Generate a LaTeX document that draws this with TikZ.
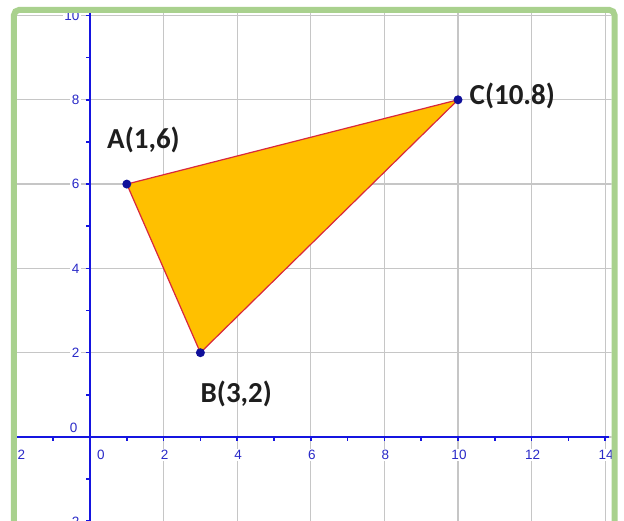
\documentclass[tikz,border=0pt]{standalone}
\usepackage{fontspec}
\setmainfont{Carlito}
\newfontfamily\axfont{Liberation Sans}
\definecolor{framegreen}{HTML}{A9D18E}
\definecolor{gridgray}{HTML}{C6C6C6}
\definecolor{axisblue}{HTML}{1515E0}
\definecolor{lblblue}{HTML}{2A2AC8}
\definecolor{trifill}{HTML}{FFC000}
\definecolor{triedge}{HTML}{D8283C}
\definecolor{ptblue}{HTML}{10109A}
\definecolor{lbltext}{HTML}{1E1E1E}
\begin{document}
\begin{tikzpicture}[x=36.8pt,y=42.15pt,
  gridline/.style={gridgray, line width=1.2pt},
  axisline/.style={axisblue, line width=2pt},
  tickline/.style={axisblue, line width=1.6pt},
  ticklabel/.style={font=\axfont\fontsize{13.5}{14}\selectfont, text=lblblue, fill=white, inner sep=1.5pt},
  ptdot/.style={circle, fill=ptblue, inner sep=0pt, minimum size=9pt},
  ptlabel/.style={font=\bfseries\fontsize{29}{32}\selectfont, text=lbltext, inner sep=0pt, anchor=base west}]
\useasboundingbox (-90pt,-84pt) rectangle (534pt,437pt);
\fill[white] (-90pt,-84pt) rectangle (534pt,437pt);
\begin{scope}
\clip (-73pt,-90pt) rectangle (521.5pt,424pt);
% grid
\foreach \x in {-2,0,...,14} \draw[gridline] (\x,-2.5) -- (\x,10.5);
\foreach \y in {-2,0,...,10} \draw[gridline] (-2.5,\y) -- (14.5,\y);
% x tick labels
\node[ticklabel, xshift=1pt, yshift=-18pt] (xm2) at (-2,0) {−2};
\node[ticklabel, xshift=11pt, yshift=-18pt] (x0) at (0,0) {0};
\foreach \x in {2,4,...,14} \node[ticklabel, xshift=1pt, yshift=-18pt] (x\x) at (\x,0) {\x};
% y tick labels
\node[ticklabel, anchor=east, xshift=-9pt] (ym2) at (0,-2) {−2};
\node[ticklabel, anchor=east, xshift=-11pt, yshift=9pt] (y0) at (0,0) {0};
\foreach \y in {2,4,...,10} \node[ticklabel, anchor=east, xshift=-9pt] (y\y) at (0,\y) {\y};
% triangle
\coordinate (A) at (1,6);
\coordinate (B) at (3,2);
\coordinate (C) at (10,8);
\filldraw[fill=trifill, draw=triedge, line width=1.2pt, line join=round] (A) -- (B) -- (C) -- cycle;
% axes
\coordinate (xl) at (-2.5,0);
\coordinate (xr) at (14.1,0);
\coordinate (yb) at (0,-2.5);
\coordinate (yt) at (0,10.2);
\draw[axisline] (xl) -- (xr);
\draw[axisline] (yb) -- (yt);
\foreach \x in {-2,...,14} \draw[tickline] (\x,0) -- ++(0,-4pt);
\foreach \y in {-2,...,10} \draw[tickline] (0,\y) -- ++(-4pt,0);
% points
\node[ptdot] (dA) at (A) {};
\node[ptdot] (dB) at (B) {};
\node[ptdot] (dC) at (C) {};
\end{scope}
% point labels
\node[ptlabel] (lA) at (17pt,288pt) {A(1,6)};
\node[ptlabel] (lB) at (110.5pt,34pt) {B(3,2)};
\node[ptlabel] (lC) at (379.5pt,332pt) {C(10.8)};
% frame
\draw[framegreen, line width=6pt, rounded corners=5pt] (-76pt,-110pt) rectangle (524.5pt,427pt);
\end{tikzpicture}
\end{document}
